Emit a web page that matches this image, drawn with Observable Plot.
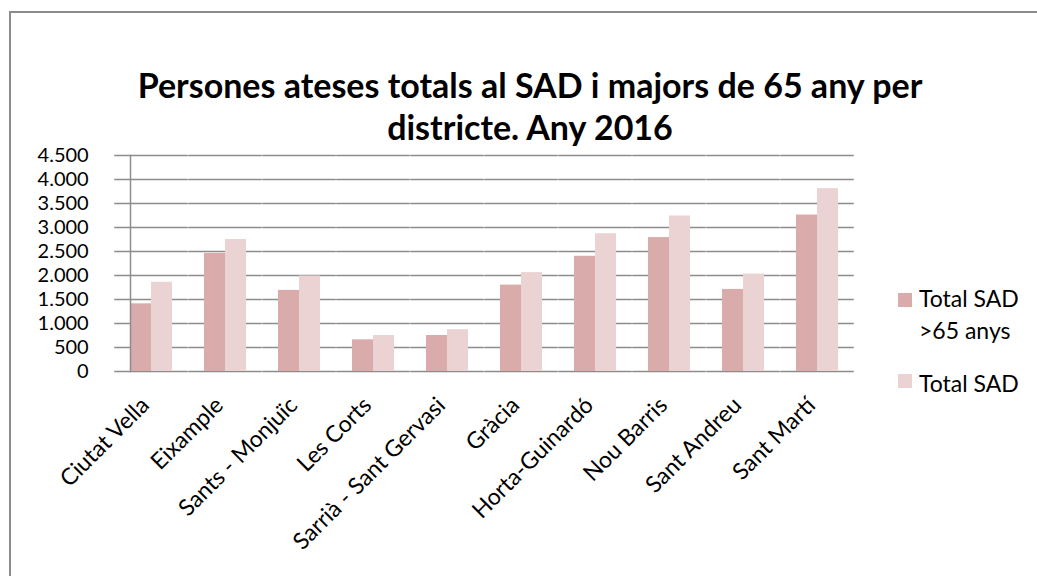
<!DOCTYPE html>
<html><head><meta charset="utf-8">
<script src="https://cdn.jsdelivr.net/npm/d3@7"></script>
<script src="https://cdn.jsdelivr.net/npm/@observablehq/plot@0.6"></script>
<style>
body{margin:0;background:#fff;font-family:Lato,"Open Sans",sans-serif;color:#000;}
#wrap{position:relative;width:1037px;height:576px;overflow:hidden;background:#fff;}
#box{position:absolute;left:9px;top:11px;width:1200px;height:800px;border-left:2px solid #8c8c8c;border-top:2px solid #8c8c8c;}
#title{position:absolute;left:0;width:1060px;top:64px;text-align:center;font-weight:bold;font-size:34px;line-height:42px;}
#chart{position:absolute;left:0;top:140px;}
.sw{position:absolute;width:14px;height:14px;}
.lt{position:absolute;font-size:23px;line-height:32px;white-space:nowrap;}
</style></head>
<body><div id="wrap"><div id="box"></div>
<div id="title">Persones ateses totals al SAD i majors de 65 any per<br>districte. Any 2016</div>
<div id="chart"></div><div id="legend"></div></div>
<script>
const districtes = ["Ciutat Vella","Eixample","Sants - Monjuïc","Les Corts","Sarrià - Sant Gervasi","Gràcia","Horta-Guinardó","Nou Barris","Sant Andreu","Sant Martí"];
const series = ["Total SAD >65 anys","Total SAD"];
const total65 = [1410, 2460, 1690, 660, 750, 1800, 2400, 2790, 1710, 3260];
const totalSAD = [1860, 2750, 1990, 750, 870, 2060, 2870, 3240, 2030, 3810];
const yTicks = [0,500,1000,1500,2000,2500,3000,3500,4000,4500];
const colors = ["#d9abab","#ebd3d4"];

const data = districtes.flatMap((d,i)=>[
  {districte:d, serie:series[0], valor:total65[i]},
  {districte:d, serie:series[1], valor:totalSAD[i]}
]);
const loc = d3.formatLocale({decimal:",", thousands:".", grouping:[3], currency:["","€"]});
const fmt = loc.format(",");
const grid = "#8c8c8c";
const W = 880, ML = 113, MR = 25, PI = 0.426, PO = 0.213;
// band step and the gaps, derived from the band scale settings
const step = (W - ML - MR) / (districtes.length - PI + 2 * PO);
const ext = -step * PI / 2;
const outer = step * PO;
const plot = Plot.plot({
  width:W, height:436, marginTop:15, marginBottom:205, marginLeft:ML, marginRight:MR,
  style:{fontFamily:'Lato,"Open Sans",sans-serif', color:"#000", background:"transparent"},
  fx:{domain:districtes, paddingInner:PI, paddingOuter:PO, label:null},
  x:{domain:series, padding:0, axis:null},
  y:{domain:[0,4500], label:null},
  color:{domain:series, range:colors},
  marks:[
    Plot.ruleY(yTicks, {stroke:grid, strokeWidth:1.5, insetLeft:ext, insetRight:ext}),
    Plot.barY(data, {fx:"districte", x:"serie", y:"valor", fill:"serie"}),
    Plot.frame({anchor:"left", stroke:grid, strokeWidth:1.5, facet:"super"}),
    Plot.axisY(yTicks, {anchor:"left", tickFormat:fmt, tickSize:0, tickPadding:26 + outer, fontSize:20, label:null}),
    Plot.axisFx({anchor:"bottom", tickRotate:-45, tickSize:0, tickPadding:30, dx:-6, fontSize:23, label:null})
  ]
});
document.getElementById("chart").appendChild(plot);

const legend = document.getElementById("legend");
const tops = [293, 374];
const labels = ["Total SAD<br>&gt;65 anys", "Total SAD"];
tops.forEach((top,i)=>{
  const sw=document.createElement("div"); sw.className="sw";
  sw.style.left="898px"; sw.style.top=top+"px"; sw.style.background=colors[i];
  const t=document.createElement("div"); t.className="lt";
  t.style.left="919px"; t.style.top=(i===0 ? 282 : 367)+"px"; t.innerHTML=labels[i];
  legend.appendChild(sw); legend.appendChild(t);
});
</script></body></html>
